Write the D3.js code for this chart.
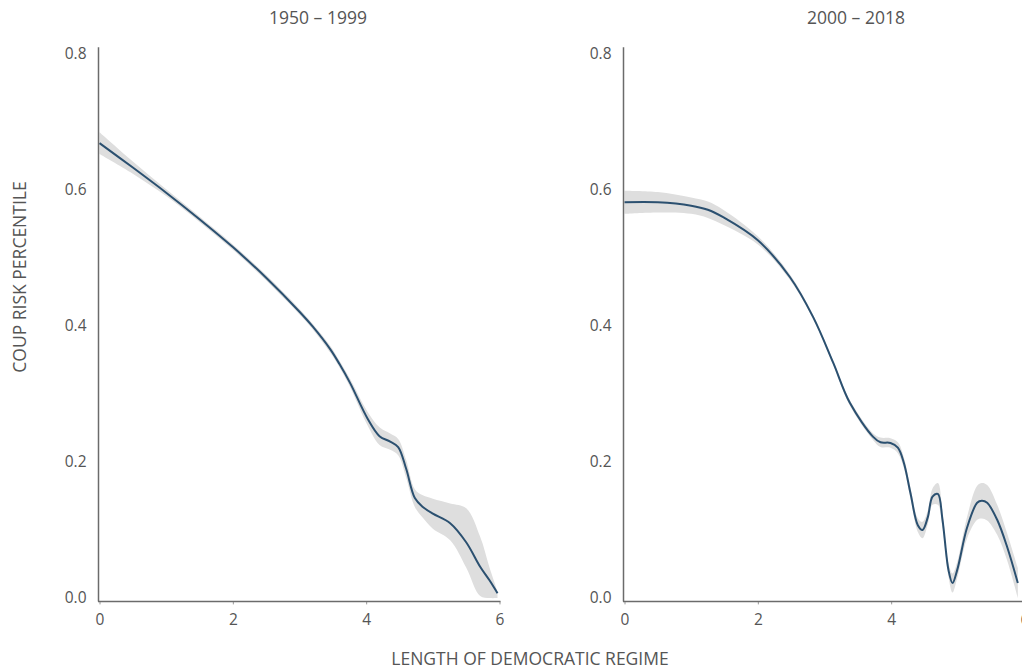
<!DOCTYPE html>
<html>
<head>
<meta charset="utf-8">
<script src="https://cdn.jsdelivr.net/npm/d3@7"></script>
<style>
  body { margin: 0; background: #fff; }
  svg { display: block; }
  text { font-family: "Open Sans", "Noto Sans", sans-serif; fill: #555; }
</style>
</head>
<body>
<svg id="chart" width="1022" height="669"></svg>
<script>
// ---- Data ----
const panelTitles = ["1950 \u2013 1999", "2000 \u2013 2018"];
const xTicks = [0, 2, 4, 6];
const xTickLabels = ["0", "2", "4", "6"];
const yTicks = [0.0, 0.2, 0.4, 0.6, 0.8];
const yTickLabels = ["0.0", "0.2", "0.4", "0.6", "0.8"];

// Panel 1: 1950-1999
const x1 =     [0, 0.5, 1, 1.5, 2, 2.5, 3, 3.2, 3.46, 3.6, 3.76, 4.02, 4.2, 4.36, 4.48, 4.6, 4.73, 4.85, 5.0, 5.26, 5.5, 5.71, 5.85, 5.97];
const mean1 =  [0.669, 0.633, 0.596, 0.557, 0.516, 0.471, 0.421, 0.399, 0.366, 0.344, 0.316, 0.264, 0.238, 0.230, 0.222, 0.190, 0.147, 0.134, 0.124, 0.110, 0.082, 0.046, 0.026, 0.007];
const upper1 = [0.685, 0.642, 0.601, 0.561, 0.520, 0.475, 0.425, 0.403, 0.371, 0.349, 0.322, 0.274, 0.251, 0.242, 0.234, 0.203, 0.160, 0.151, 0.146, 0.139, 0.132, 0.090, 0.045, 0.010];
const lower1 = [0.653, 0.624, 0.591, 0.553, 0.512, 0.467, 0.417, 0.395, 0.361, 0.339, 0.310, 0.254, 0.225, 0.218, 0.210, 0.177, 0.134, 0.118, 0.102, 0.085, 0.045, 0.003, 0.000, 0.000];

// Panel 2: 2000-2018
const x2 =     [0, 0.5, 1.0, 1.25, 1.48, 2.0, 2.48, 2.83, 3.13, 3.38, 3.73, 3.84, 3.99, 4.1, 4.19, 4.29, 4.4, 4.47, 4.55, 4.62, 4.7, 4.77, 4.86, 4.92, 4.99, 5.14, 5.29, 5.36, 5.44, 5.59, 5.74, 5.9];
const mean2 =  [0.582, 0.582, 0.577, 0.571, 0.560, 0.526, 0.472, 0.413, 0.346, 0.287, 0.237, 0.229, 0.228, 0.221, 0.199, 0.154, 0.107, 0.100, 0.119, 0.149, 0.153, 0.115, 0.041, 0.022, 0.041, 0.104, 0.140, 0.143, 0.140, 0.115, 0.075, 0.022];
const half2 =  [0.017, 0.015, 0.012, 0.012, 0.011, 0.006, 0.004, 0.003, 0.003, 0.004, 0.005, 0.007, 0.007, 0.008, 0.008, 0.008, 0.010, 0.012, 0.010, 0.012, 0.016, 0.012, 0.010, 0.014, 0.012, 0.016, 0.025, 0.026, 0.026, 0.022, 0.020, 0.022];
const upper2 = mean2.map((m, i) => m + half2[i]);
const lower2 = mean2.map((m, i) => Math.max(0, m - half2[i]));

const panels = [
  { title: panelTitles[0], x: x1, mean: mean1, upper: upper1, lower: lower1, left: 99.5, titleX: 318 },
  { title: panelTitles[1], x: x2, mean: mean2, upper: upper2, lower: lower2, left: 624.5, titleX: 856 }
];

// ---- Drawing ----
const svg = d3.select("#chart");
const y = d3.scaleLinear().domain([0, 0.8]).range([598, 54]);
const axisColor = "#6b6b6b";
const textColor = "#525252";
const curve = d3.curveCatmullRom.alpha(0.5);

panels.forEach(p => {
  const x = d3.scaleLinear().domain([0, 6]).range([p.left, p.left + 400]);
  const g = svg.append("g");
  const pts = p.x.map((v, i) => ({ x: v, m: p.mean[i], lo: p.lower[i], hi: p.upper[i] }));

  g.append("path")
    .datum(pts)
    .attr("fill", "#dedede")
    .attr("d", d3.area().x(d => x(d.x)).y0(d => y(d.lo)).y1(d => y(d.hi)).curve(curve));

  g.append("path")
    .datum(pts)
    .attr("fill", "none")
    .attr("stroke", "#2b5070")
    .attr("stroke-width", 2)
    .attr("d", d3.line().x(d => x(d.x)).y(d => y(d.m)).curve(curve));

  // Y axis
  const yAxis = d3.axisLeft(y).tickValues(yTicks).tickFormat((d, i) => yTickLabels[i]).tickSize(0).tickPadding(12);
  const ya = g.append("g").attr("transform", `translate(${x(0) - 1},0)`).call(yAxis);
  ya.select(".domain").remove();
  ya.selectAll("text").style("font-size", "15.5px").style("font-family", "'Open Sans', sans-serif").attr("fill", textColor);
  g.append("line")
    .attr("x1", x(0) - 1).attr("x2", x(0) - 1)
    .attr("y1", y(0.81)).attr("y2", y(-0.005))
    .attr("stroke", axisColor).attr("stroke-width", 1.5);

  // X axis
  const xAxis = d3.axisBottom(x).tickValues(xTicks).tickFormat((d, i) => xTickLabels[i]).tickSize(3).tickPadding(10);
  const xa = g.append("g").attr("transform", `translate(0,${y(-0.005)})`).call(xAxis);
  xa.select(".domain").remove();
  xa.selectAll(".tick line").attr("stroke", "#999").attr("stroke-width", 1);
  xa.selectAll("text").style("font-size", "15.5px").style("font-family", "'Open Sans', sans-serif").attr("fill", textColor);
  g.append("line")
    .attr("x1", x(0) - 1.5).attr("x2", x(6) + 1)
    .attr("y1", y(-0.005)).attr("y2", y(-0.005))
    .attr("stroke", axisColor).attr("stroke-width", 1.5);

  // Panel title
  g.append("text")
    .attr("x", p.titleX).attr("y", 24)
    .attr("text-anchor", "middle")
    .style("font-size", "17.5px")
    .attr("fill", textColor)
    .text(p.title);
});

// Axis titles
svg.append("text")
  .attr("x", 530).attr("y", 665)
  .attr("text-anchor", "middle")
  .style("font-size", "17.5px")
  .attr("fill", textColor)
  .text("LENGTH OF DEMOCRATIC REGIME");

svg.append("text")
  .attr("transform", "translate(26,277) rotate(-90)")
  .attr("text-anchor", "middle")
  .style("font-size", "17.5px")
  .attr("fill", textColor)
  .text("COUP RISK PERCENTILE");
</script>
</body>
</html>
